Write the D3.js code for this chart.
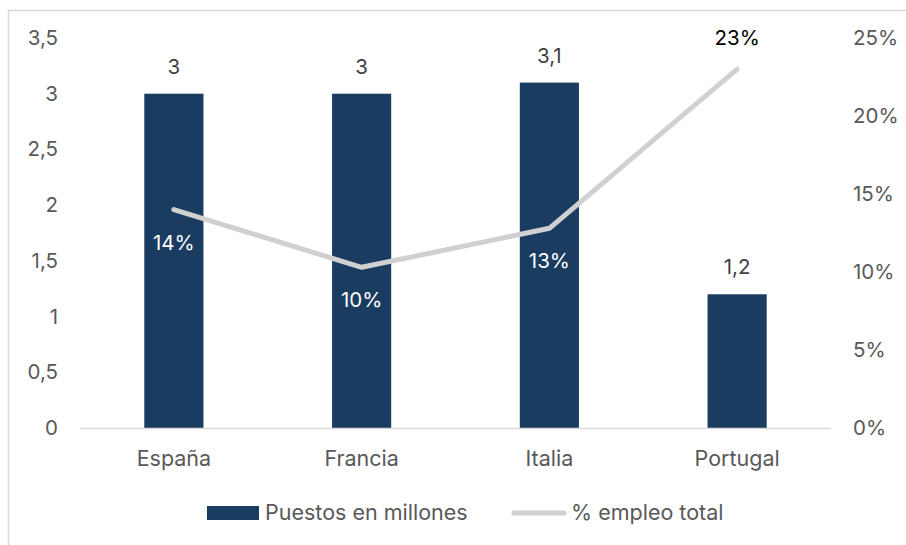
<!DOCTYPE html>
<html>
<head>
<meta charset="utf-8">
<script src="https://cdn.jsdelivr.net/npm/d3@7"></script>
<style>
  html, body { margin: 0; padding: 0; background: #fff; }
  svg { display: block; }
</style>
</head>
<body>
<svg id="chart" width="906" height="545"></svg>
<script>
// Data
const countries = ["España", "Francia", "Italia", "Portugal"];
const jobsMillions = [3, 3, 3.1, 1.2];
const employmentShare = [0.14, 0.103, 0.128, 0.23];
const leftTicks = [0, 0.5, 1, 1.5, 2, 2.5, 3, 3.5];
const rightTicks = [0, 0.05, 0.10, 0.15, 0.20, 0.25];
const seriesNames = ["Puestos en millones", "% empleo total"];

const barColor = "#1a3c61";
const lineColor = "#d0d0d0";
const axisText = "#595959";
const numFont = "Inter, 'Open Sans', sans-serif";
const textFont = "Inter, 'Open Sans', sans-serif";
const numSize = "20.5px";
const textSize = "21.5px";

const svg = d3.select("#chart");

// outer frame
svg.append("rect")
  .attr("x", 8.5).attr("y", 10.5)
  .attr("width", 920).attr("height", 560)
  .attr("fill", "none").attr("stroke", "#d9d9d9").attr("stroke-width", 1.5);

const plot = { left: 80, right: 831, top: 38, bottom: 428 };

const x = d3.scaleBand().domain(countries).range([plot.left, plot.right]).padding(0);
const yL = d3.scaleLinear().domain([0, 3.5]).range([plot.bottom, plot.top]);
const yR = d3.scaleLinear().domain([0, 0.25]).range([plot.bottom, plot.top]);
const barW = x.bandwidth() * 0.315;
const cx = d => x(d) + x.bandwidth() / 2;

const locale = d3.formatLocale({ decimal: ",", thousands: ".", grouping: [3], currency: ["", "€"] });
const fmtNum = v => locale.format("~g")(v);
const fmtPct = locale.format(".0%");

// left axis
const axL = d3.axisLeft(yL).tickValues(leftTicks).tickFormat(fmtNum).tickSize(0).tickPadding(0);
const gL = svg.append("g").attr("transform", `translate(58,0)`).call(axL);
gL.select(".domain").remove();
gL.selectAll("text").attr("fill", axisText).style("font-family", numFont).style("font-size", numSize);

// right axis
const axR = d3.axisRight(yR).tickValues(rightTicks).tickFormat(fmtPct).tickSize(0).tickPadding(0);
const gR = svg.append("g").attr("transform", `translate(853,0)`).call(axR);
gR.select(".domain").remove();
gR.selectAll("text").attr("fill", axisText).style("font-family", numFont).style("font-size", numSize);

// bars
svg.append("g").selectAll("rect").data(countries).join("rect")
  .attr("x", d => cx(d) - barW / 2)
  .attr("y", (d, i) => yL(jobsMillions[i]))
  .attr("width", barW)
  .attr("height", (d, i) => yL(0) - yL(jobsMillions[i]))
  .attr("fill", barColor);

// baseline
svg.append("line")
  .attr("x1", plot.left).attr("x2", plot.right)
  .attr("y1", plot.bottom + 0.5).attr("y2", plot.bottom + 0.5)
  .attr("stroke", "#d9d9d9").attr("stroke-width", 1.5);

// category axis
const axB = d3.axisBottom(x).tickSize(0).tickPadding(0);
const gB = svg.append("g").attr("transform", `translate(0,${plot.bottom + 23})`).call(axB);
gB.select(".domain").remove();
gB.selectAll("text").attr("fill", axisText).style("font-family", textFont).style("font-size", textSize);

// bar value labels
svg.append("g").selectAll("text").data(countries).join("text")
  .attr("x", d => cx(d))
  .attr("y", (d, i) => yL(jobsMillions[i]) - 20)
  .attr("text-anchor", "middle")
  .attr("fill", "#404040")
  .style("font-family", numFont).style("font-size", numSize)
  .text((d, i) => fmtNum(jobsMillions[i]));

// line series
const line = d3.line().x(d => cx(d)).y((d, i) => yR(employmentShare[i]));
svg.append("path").datum(countries)
  .attr("d", line)
  .attr("fill", "none").attr("stroke", lineColor)
  .attr("stroke-width", 5).attr("stroke-linecap", "round").attr("stroke-linejoin", "round");

// line value labels (below point in white over the bars; above for the last one)
svg.append("g").selectAll("text").data(countries).join("text")
  .attr("x", d => cx(d))
  .attr("y", (d, i) => i === 3 ? yR(employmentShare[i]) - 24 : yR(employmentShare[i]) + 40)
  .attr("text-anchor", "middle")
  .attr("fill", (d, i) => i === 3 ? "#000" : "#fff")
  .style("font-family", numFont).style("font-size", numSize)
  .text((d, i) => fmtPct(employmentShare[i]));

// legend
const lg = svg.append("g");
lg.append("rect").attr("x", 207).attr("y", 506).attr("width", 52).attr("height", 14).attr("fill", barColor);
lg.append("text").attr("x", 265).attr("y", 520).attr("fill", axisText)
  .style("font-family", textFont).style("font-size", textSize).text(seriesNames[0]);
lg.append("line").attr("x1", 514).attr("x2", 564).attr("y1", 513).attr("y2", 513)
  .attr("stroke", lineColor).attr("stroke-width", 5).attr("stroke-linecap", "round");
lg.append("text").attr("x", 571).attr("y", 520).attr("fill", axisText)
  .style("font-family", textFont).style("font-size", textSize).text(seriesNames[1]);
</script>
</body>
</html>
